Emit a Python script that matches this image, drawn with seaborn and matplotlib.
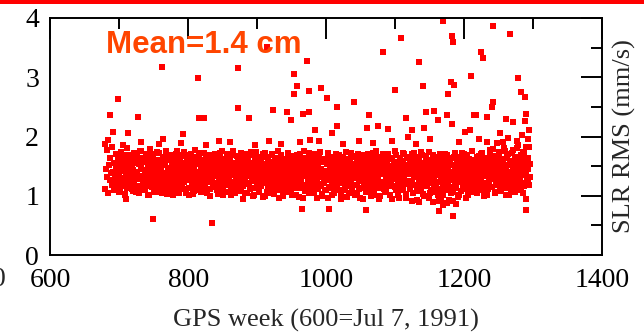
import numpy as np
import pandas as pd
import matplotlib
matplotlib.use("Agg")
import matplotlib.pyplot as plt
import seaborn as sns
from matplotlib.ticker import MultipleLocator
from matplotlib.patches import Rectangle

# SLR RMS per GPS week, satellite A (weeks 680..1295)
rms_a = [
    1.12, 1.45, 1.31, 1.78, 1.05, 1.52, 1.27, 1.64, 1.38, 1.19, 1.83, 1.41, 1.09, 1.56, 1.33, 1.71, 1.24, 1.47, 1.15, 1.62,
    1.36, 1.08, 1.74, 1.29, 1.51, 1.18, 1.67, 1.42, 1.03, 1.58, 1.35, 1.81, 1.22, 1.49, 1.13, 1.69, 1.37, 1.26, 1.55, 1.11,
    1.44, 1.72, 1.21, 1.59, 1.06, 1.39, 1.65, 1.28, 1.53, 1.17, 1.76, 1.32, 1.48, 1.10, 1.63, 1.25, 1.57, 1.40, 1.14, 1.70,
    1.34, 1.02, 1.61, 1.46, 1.23, 1.79, 1.16, 1.54, 1.30, 1.68, 1.07, 1.43, 1.27, 1.60, 1.19, 1.50, 1.36, 1.73, 1.12, 1.45,
    1.29, 1.57, 1.04, 1.66, 1.38, 1.21, 1.52, 1.14, 1.75, 1.33, 1.47, 1.09, 1.62, 1.26, 1.41, 1.18, 1.58, 1.35, 1.01, 1.49,
    1.64, 1.23, 1.37, 1.71, 1.15, 1.53, 1.30, 1.08, 1.46, 1.67, 1.20, 1.39, 1.56, 1.11, 1.74, 1.32, 1.44, 1.05, 1.59, 1.27,
    1.42, 1.13, 1.69, 1.34, 1.51, 1.22, 1.61, 1.03, 1.48, 1.36, 1.77, 1.17, 1.54, 1.28, 1.40, 1.10, 1.65, 1.31, 1.50, 1.24,
    1.58, 1.06, 1.43, 1.72, 1.19, 1.35, 1.63, 1.26, 1.47, 1.12, 1.55, 1.38, 1.00, 1.68, 1.29, 1.45, 1.16, 1.60, 1.33, 1.21,
    1.52, 1.37, 1.09, 1.66, 1.25, 1.44, 1.73, 1.14, 1.39, 1.57, 1.02, 1.49, 1.30, 1.62, 1.18, 1.41, 1.70, 1.07, 1.53, 1.34,
    1.23, 1.60, 1.11, 1.46, 1.36, 1.75, 1.20, 1.51, 1.04, 1.42, 1.67, 1.28, 1.55, 1.15, 1.38, 1.64, 1.08, 1.48, 1.31, 1.59,
    1.17, 1.43, 1.71, 1.26, 1.50, 1.05, 1.39, 1.62, 1.22, 1.56, 1.33, 1.13, 1.68, 1.40, 1.27, 1.53, 1.01, 1.45, 1.74, 1.19,
    1.35, 1.58, 1.10, 1.47, 1.29, 1.66, 1.16, 1.41, 0.98, 1.54, 1.32, 1.72, 1.21, 1.49, 1.07, 1.63, 1.37, 1.25, 1.57, 1.12,
    1.44, 1.69, 1.18, 1.36, 1.52, 1.03, 1.61, 1.28, 1.46, 1.14, 1.76, 1.31, 1.55, 1.09, 1.40, 1.65, 1.23, 1.50, 0.99, 1.38,
    1.60, 1.20, 1.47, 1.34, 1.71, 1.11, 1.53, 1.27, 1.42, 1.06, 1.67, 1.39, 1.16, 1.58, 1.30, 1.45, 1.02, 1.62, 1.24, 1.51,
    1.36, 1.13, 1.70, 1.41, 1.22, 1.56, 0.97, 1.48, 1.33, 1.64, 1.18, 1.43, 1.59, 1.08, 1.37, 1.73, 1.26, 1.52, 1.15, 1.40,
    1.63, 1.29, 1.04, 1.49, 1.35, 1.68, 1.21, 1.55, 1.12, 1.44, 1.31, 1.74, 1.17, 1.46, 1.00, 1.57, 1.38, 1.25, 1.61, 1.10,
    1.42, 1.27, 1.58, 0.96, 1.34, 1.50, 1.14, 1.66, 1.39, 1.23, 1.47, 1.05, 1.54, 1.31, 1.70, 1.19, 1.36, 1.61, 1.09, 1.44,
    1.28, 1.52, 1.02, 1.39, 1.65, 1.21, 1.45, 1.13, 1.57, 1.33, 0.98, 1.48, 1.26, 1.62, 1.16, 1.41, 1.72, 1.07, 1.35, 1.53,
    1.19, 1.43, 1.67, 1.30, 1.04, 1.50, 1.37, 1.59, 1.11, 1.46, 1.25, 1.69, 1.32, 0.95, 1.55, 1.40, 1.22, 1.63, 1.15, 1.48,
    1.34, 1.71, 1.08, 1.44, 1.27, 1.56, 1.18, 1.62, 1.38, 1.01, 1.51, 1.29, 1.75, 1.14, 1.42, 1.60, 1.23, 1.47, 0.99, 1.36,
    1.58, 1.20, 1.45, 1.66, 1.12, 1.39, 1.53, 1.06, 1.31, 1.70, 1.24, 1.49, 1.17, 1.63, 1.35, 0.94, 1.46, 1.28, 1.57, 1.41,
    1.15, 1.68, 1.33, 1.50, 1.02, 1.43, 1.26, 1.61, 1.37, 1.19, 1.55, 1.09, 1.73, 1.30, 1.46, 0.97, 1.40, 1.64, 1.22, 1.52,
    1.36, 1.11, 1.59, 1.44, 1.25, 1.71, 1.05, 1.48, 1.32, 1.66, 1.18, 1.41, 0.93, 1.56, 1.29, 1.62, 1.14, 1.38, 1.74, 1.21,
    1.47, 1.03, 1.53, 1.34, 1.67, 1.16, 1.42, 1.27, 1.60, 0.96, 1.39, 1.55, 1.10, 1.45, 1.31, 1.69, 1.20, 1.50, 1.07, 1.36,
    1.58, 1.24, 1.43, 0.91, 1.35, 1.64, 1.12, 1.48, 1.28, 1.54, 1.01, 1.40, 1.70, 1.19, 1.33, 0.88, 1.46, 1.26, 1.61, 1.15,
    1.38, 1.05, 1.52, 1.30, 0.92, 1.66, 1.22, 1.44, 1.13, 1.57, 1.35, 0.98, 1.49, 1.27, 1.63, 1.08, 1.41, 1.72, 1.18, 1.34,
    1.55, 1.11, 1.46, 1.29, 1.68, 1.02, 1.39, 1.60, 1.23, 1.51, 1.14, 1.75, 1.32, 1.44, 1.06, 1.58, 1.37, 1.20, 1.65, 1.47,
    1.26, 1.53, 1.09, 1.42, 1.71, 1.31, 1.17, 1.59, 1.40, 1.00, 1.49, 1.34, 1.64, 1.22, 1.56, 1.12, 1.45, 1.78, 1.28, 1.38,
    1.61, 1.15, 1.50, 1.36, 1.04, 1.67, 1.25, 1.43, 1.57, 1.19, 1.70, 1.32, 1.48, 1.08, 1.39, 1.62, 1.21, 1.54, 1.30, 1.76,
    1.13, 1.45, 1.66, 1.27, 1.52, 1.01, 1.41, 1.59, 1.33, 1.72, 1.18, 1.47, 1.24, 1.63, 1.07, 1.55, 1.37, 1.80, 1.20, 1.44,
    1.58, 1.29, 1.69, 1.10, 1.49, 1.35, 1.74, 1.16, 1.53, 1.41, 0.95, 1.62, 1.26, 1.46, 1.83, 1.31,
]

# satellite B (ends at week 1295)
rms_b = [
    1.48, 1.21, 1.66, 1.07, 1.39, 1.55, 1.30, 1.73, 1.16, 1.44, 1.60, 1.25, 1.02, 1.51, 1.36, 1.69, 1.13, 1.42, 1.28, 1.57,
    1.19, 1.64, 1.33, 1.47, 1.08, 1.71, 1.24, 1.40, 1.56, 1.12, 1.37, 1.62, 1.29, 1.04, 1.53, 1.45, 1.76, 1.17, 1.34, 1.59,
    1.26, 1.43, 1.10, 1.67, 1.38, 1.22, 1.54, 1.01, 1.46, 1.63, 1.31, 1.15, 1.70, 1.35, 1.50, 1.09, 1.41, 1.58, 1.23, 1.74,
    1.32, 1.06, 1.49, 1.61, 1.18, 1.44, 1.27, 1.65, 1.39, 1.11, 1.55, 1.30, 1.72, 1.03, 1.47, 1.36, 1.60, 1.20, 1.42, 1.14,
    1.52, 1.68, 1.25, 1.37, 1.09, 1.57, 1.43, 1.21, 1.75, 1.33, 1.48, 1.05, 1.62, 1.29, 1.40, 1.16, 1.54, 1.69, 1.24, 1.45,
    1.11, 1.38, 1.63, 1.28, 1.50, 1.02, 1.44, 1.35, 1.71, 1.19, 1.56, 1.32, 1.08, 1.47, 1.66, 1.22, 1.41, 1.59, 1.13, 1.34,
    1.73, 1.26, 1.46, 1.07, 1.53, 1.39, 1.61, 1.17, 1.42, 1.30, 1.68, 1.04, 1.51, 1.36, 1.23, 1.58, 1.12, 1.45, 1.64, 1.29,
    1.40, 1.15, 1.55, 1.70, 1.21, 1.37, 1.48, 1.03, 1.62, 1.33, 1.19, 1.52, 1.43, 1.76, 1.10, 1.38, 1.57, 1.27, 1.49, 1.06,
    1.65, 1.31, 1.44, 1.18, 1.59, 1.35, 1.02, 1.50, 1.24, 1.69, 1.41, 1.14, 1.56, 1.30, 1.47, 1.08, 1.63, 1.37, 1.22, 1.53,
    1.39, 1.72, 1.16, 1.45, 1.28, 1.60, 1.05, 1.49, 1.34, 1.67, 1.20, 1.43, 1.55, 1.11, 1.38, 1.74, 1.25, 1.51, 1.00, 1.46,
    1.32, 1.58, 1.13, 1.42, 1.64, 1.27, 1.50, 1.07, 1.36, 1.61, 1.19, 1.47, 1.70, 1.23, 1.40, 0.99, 1.54, 1.33, 1.66, 1.15,
    1.44, 1.29, 1.57, 1.04, 1.48, 1.35, 1.71, 1.18, 1.52, 1.26, 1.63, 1.09, 1.41, 1.37, 1.59, 1.21, 0.97, 1.46, 1.68, 1.30,
    1.53, 1.12, 1.39, 1.62, 1.25, 1.45, 1.06, 1.56, 1.34, 1.73, 1.17, 1.43, 1.28, 1.60, 1.01, 1.49, 1.37, 1.66, 1.22, 1.51,
    1.14, 1.40, 1.69, 1.31, 1.55, 0.98, 1.44, 1.27, 1.61, 1.19, 1.48, 1.36, 1.75, 1.08, 1.52, 1.33, 1.58, 1.23, 1.42, 1.05,
    1.64, 1.29, 1.47, 1.16, 1.54, 1.38, 1.70, 1.11, 1.43, 1.26, 1.59, 0.96, 1.50, 1.35, 1.67, 1.20, 1.45, 1.31, 1.03, 1.57,
    1.41, 1.22, 1.62, 1.37, 1.09, 1.53, 1.28, 1.72, 1.15, 1.46, 1.34, 1.60, 1.01, 1.49, 1.24, 1.65, 1.39, 1.13, 1.56, 1.32,
    1.18, 1.50, 1.68, 1.27, 1.43, 0.95, 1.58, 1.36, 1.21, 1.63, 1.10, 1.47, 1.30, 1.74, 1.16, 1.42, 1.55, 1.05, 1.38, 1.61,
    1.25, 1.46, 1.12, 1.66, 1.33, 1.52, 1.02, 1.40, 1.59, 1.19, 1.71, 1.28, 1.44, 0.97, 1.54, 1.36, 1.64, 1.14, 1.48, 1.23,
    1.57, 1.07, 1.42, 1.69, 1.31, 1.50, 1.17, 1.38, 1.62, 1.00, 1.46, 1.26, 1.73, 1.34, 1.11, 1.55, 1.40, 1.21, 1.65, 1.29,
    1.48, 0.94, 1.36, 1.60, 1.13, 1.53, 1.24, 1.70, 1.39, 1.06, 1.45, 1.30, 1.58, 1.18, 1.67, 1.35, 1.02, 1.51, 1.27, 1.43,
    1.62, 1.16, 1.49, 1.33, 1.75, 1.09, 1.41, 1.56, 1.22, 1.37, 0.96, 1.64, 1.28, 1.47, 1.12, 1.59, 1.34, 1.70, 1.20, 1.44,
    1.03, 1.52, 1.38, 1.66, 1.25, 1.45, 1.14, 1.60, 0.92, 1.36, 1.53, 1.19, 1.72, 1.31, 1.48, 1.08, 1.57, 1.40, 1.23, 1.63,
    1.35, 1.11, 1.50, 1.68, 1.27, 1.43, 0.99, 1.55, 1.32, 1.61, 1.17, 1.46, 1.29, 1.74, 1.05, 1.39, 1.58, 1.21, 1.52, 0.90,
    1.44, 1.30, 1.65, 1.15, 1.49, 1.37, 1.02, 1.59, 1.24, 1.71, 1.33, 0.95, 1.47, 1.20, 1.62, 1.40, 1.10, 1.54, 1.28, 1.68,
    1.18, 1.45, 0.93, 1.57, 1.34, 1.64, 1.26, 1.41, 1.07, 1.52, 1.38, 1.73, 1.16, 1.48, 1.30, 1.60, 1.01, 1.43, 1.23, 1.66,
    1.36, 1.55, 1.12, 1.47, 1.70, 1.28, 1.42, 0.97, 1.58, 1.33, 1.19, 1.62, 1.45, 1.08, 1.51, 1.37, 1.76, 1.24, 1.49, 1.14,
    1.60, 1.31, 1.46, 1.04, 1.55, 1.39, 1.67, 1.21, 1.44, 1.29, 1.72, 1.10, 1.53, 1.35, 1.63, 1.18, 1.48, 1.02, 1.58, 1.41,
    1.25, 1.69, 1.37, 1.52, 1.15, 1.44, 1.79, 1.30, 1.06, 1.57, 1.40, 1.65, 1.22, 1.50, 1.33, 1.74, 1.12, 1.46, 1.61, 1.27,
    1.54, 1.38, 1.81, 1.19, 1.47, 1.02, 1.63, 1.35, 1.70, 1.24, 1.52, 1.41, 1.09, 1.58, 1.31, 1.77, 1.45, 1.16, 1.66, 1.39,
    1.28, 1.56, 1.86, 1.13, 1.49, 1.34, 1.68, 1.22, 1.60, 1.43, 1.05, 1.72, 1.37, 1.51, 1.82, 1.25, 1.46, 1.64, 1.18, 1.53,
]

# scattered points outside the main band
out_weeks = [684, 687, 691, 698, 713, 727, 749, 762, 764, 793, 814, 815, 823, 835, 845, 872, 872, 888, 914,
             917, 923, 943, 949, 953, 953, 958, 965, 967, 972, 975, 975, 977, 984, 990, 993, 1001, 1004,
             1009, 1016, 1016, 1040, 1058, 1059, 1062, 1075, 1082, 1090, 1100, 1108, 1116, 1119, 1124, 1135,
             1135, 1140, 1142, 1145, 1156, 1162, 1164, 1169, 1175, 1177, 1181, 1182, 1182, 1184, 1184, 1185,
             1201, 1209, 1210, 1214, 1217, 1224, 1228, 1233, 1233, 1240, 1242, 1242, 1252, 1256, 1261, 1267,
             1271, 1278, 1282, 1284, 1288, 1288, 1290, 1290, 1294,
             680, 705, 732, 757, 790, 826, 860, 897, 935, 962, 1025, 1047, 1068, 1095, 1130, 1150, 1193,
             1222, 1247, 1263, 1276, 1292, 710, 880, 1170, 1188]
out_rms = [1.94, 2.36, 2.08, 2.63, 2.06, 2.33, 0.61, 3.17, 1.96, 2.04, 2.99, 2.31, 2.31, 0.54, 1.92, 3.15, 2.48, 2.31, 3.51,
           1.92, 2.45, 2.41, 2.28, 3.05, 2.72, 2.85, 0.78, 2.38, 3.27, 2.77, 2.41, 1.94, 2.11, 1.92, 2.82, 2.65, 0.78,
           2.06, 2.50, 2.18, 2.58, 0.76, 2.14, 2.36, 2.18, 3.43, 2.13, 2.78, 3.66, 2.31, 1.99, 2.11, 3.26,
           0.90, 2.85, 2.14, 2.41, 2.43, 2.28, 0.74, 3.95, 2.36, 2.72, 2.92, 3.70, 2.21, 3.59, 0.66, 2.87,
           2.08, 2.11, 3.02, 2.36, 2.36, 3.43, 3.33, 2.33, 1.91, 2.50, 3.86, 2.58, 2.06, 1.91, 2.30, 3.73,
           2.24, 2.99, 2.75, 2.03, 2.67, 2.26, 2.38, 0.76, 2.11,
           1.88, 1.86, 1.90, 1.87, 1.89, 1.85, 1.90, 1.86, 1.88, 1.91, 1.87, 1.92, 1.89, 1.93, 1.88, 1.95, 1.90,
           1.96, 1.89, 1.97, 1.92, 1.95, 0.95, 0.94, 0.85, 0.86]

df = pd.concat([
    pd.DataFrame({"week": np.arange(680, 680 + len(rms_a)), "rms": rms_a}),
    pd.DataFrame({"week": np.arange(1296 - len(rms_b), 1296), "rms": rms_b}),
    pd.DataFrame({"week": out_weeks, "rms": out_rms}),
])

sns.set_style("white")
plt.rcParams["font.family"] = ["Liberation Serif", "DejaVu Serif"]

fig = plt.figure(figsize=(6.44, 3.33), dpi=100)
ax = fig.add_axes([0.078, 0.234, 0.857, 0.712])

sns.scatterplot(data=df, x="week", y="rms", marker="s", s=20, color="#ff0000",
                linewidth=0, ax=ax, legend=False)

ax.set_xlim(600, 1400)
ax.set_ylim(0, 4)
ax.xaxis.set_major_locator(MultipleLocator(200))
ax.xaxis.set_minor_locator(MultipleLocator(100))
ax.yaxis.set_major_locator(MultipleLocator(1))
ax.yaxis.set_minor_locator(MultipleLocator(0.5))
ax.tick_params(which="both", direction="in", top=True, right=True, width=1.4, colors="black")
ax.tick_params(which="major", length=15, labelsize=20)
ax.tick_params(which="minor", length=8)
ax.tick_params(axis="x", pad=9)
ax.tick_params(axis="y", pad=8)
for s in ax.spines.values():
    s.set_linewidth(1.4)
    s.set_color("black")

ax.set_xlabel("GPS week (600=Jul 7, 1991)", fontsize=19, labelpad=12)
ax.set_ylabel("SLR RMS (mm/s)", fontsize=19, labelpad=8)
ax.yaxis.set_label_position("right")

ax.text(0.101, 0.886, "Mean=1.4 cm", transform=ax.transAxes, fontsize=22.5,
        fontweight="bold", color="#ff4500", family="Liberation Sans", va="center")

# leftover glyph and red rule at the top edge
fig.text(0.009, 0.162, "0", fontsize=20, ha="right", va="center")
fig.add_artist(Rectangle((0, 0.988), 1, 0.012, transform=fig.transFigure, color="#ff0000", lw=0))

fig.savefig("out.png", dpi=100)
